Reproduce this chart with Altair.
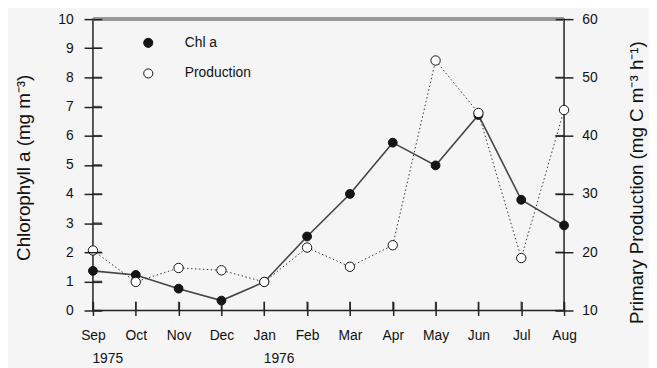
import altair as alt
import pandas as pd

months = ["Sep", "Oct", "Nov", "Dec", "Jan", "Feb", "Mar", "Apr", "May", "Jun", "Jul", "Aug"]
chl_a = [1.36, 1.22, 0.75, 0.34, 0.98, 2.54, 4.0, 5.76, 4.98, 6.71, 3.8, 2.92]
production = [20.3, 14.9, 17.3, 16.9, 14.9, 20.8, 17.5, 21.2, 52.9, 43.9, 19.0, 44.4]
years = ["1975", "1976"]
year_month_index = [0, 4]
left_ticks = list(range(0, 11))
right_ticks = [10, 20, 30, 40, 50, 60]

W, H = 477, 295
FONT = "Liberation Sans"
INK = "#222"

df = pd.DataFrame({
    "i": list(range(len(months))),
    "chl": chl_a,
    "prod": production,
    "s1": ["Chl a"] * len(months),
    "s2": ["Production"] * len(months),
})
ydf = pd.DataFrame({"i": year_month_index, "year": years})
ltdf = pd.DataFrame({"chl": left_ticks})
rtdf = pd.DataFrame({"prod": right_ticks})

x_enc = alt.X(
    "i:Q",
    scale=alt.Scale(domain=[0, len(months) - 1], nice=False, zero=False),
    axis=alt.Axis(
        values=list(range(len(months))),
        labelExpr=f"{months}[datum.value]",
        title=None, domain=False, grid=False, zindex=1,
        offset=-9, tickSize=14, tickWidth=1.5, tickColor=INK,
        labelPadding=13, labelFontSize=14, labelColor="#111", labelFont=FONT,
        labelFlush=False, labelOverlap=False,
    ),
)

y_left = alt.Y(
    "chl:Q",
    scale=alt.Scale(domain=[0, 10], nice=False, zero=False),
    axis=alt.Axis(
        values=left_ticks, title="Chlorophyll a  (mg m⁻³)",
        domain=False, grid=False, zindex=1, offset=-9, tickSize=18, tickWidth=1.5, tickColor=INK,
        labelPadding=11, labelFontSize=14, labelColor="#111", labelFont=FONT,
        titleFontSize=19, titleFont=FONT, titleFontWeight="normal", titleColor="#111",
        titleX=-79, titleY=150, titleAngle=270, titleBaseline="middle",
        labelOverlap=False,
    ),
)

y_right = alt.Y(
    "prod:Q",
    scale=alt.Scale(domain=[10, 60], nice=False, zero=False),
    axis=alt.Axis(
        orient="right", values=right_ticks, title="Primary Production  (mg C m⁻³ h⁻¹)",
        domain=False, grid=False, zindex=1, offset=-9, tickSize=18, tickWidth=1.5, tickColor=INK,
        labelPadding=9, labelFontSize=14, labelColor="#111", labelFont=FONT,
        titleFontSize=19, titleFont=FONT, titleFontWeight="normal", titleColor="#111",
        titleX=82, titleY=165, titleAngle=270, titleBaseline="middle",
        labelOverlap=False,
    ),
)

fill_scale = alt.Scale(domain=["Chl a", "Production"], range=["#151515", "white"])
legend = alt.Legend(
    title=None, orient="none", legendX=49, legendY=17,
    symbolType="circle", symbolSize=85, symbolStrokeColor="#111", symbolStrokeWidth=1,
    labelFontSize=14, labelFont=FONT, labelColor="#111", labelOffset=30,
    rowPadding=17,
)

base = alt.Chart(df)

# inner halves of the crossing tick marks
left_stubs = alt.Chart(ltdf).mark_tick(color=INK, thickness=1.5, size=9).encode(
    y=y_left, x=alt.value(4.5))
chl_line = base.mark_line(color="#444", strokeWidth=1.6).encode(x=x_enc, y=y_left)
chl_pts = base.mark_point(shape="circle", filled=True, size=80, stroke="#111",
                          strokeWidth=1, opacity=1).encode(
    x=x_enc, y=y_left, fill=alt.Fill("s1:N", scale=fill_scale, legend=legend))
left = alt.layer(left_stubs, chl_line, chl_pts)

right_stubs = alt.Chart(rtdf).mark_tick(color=INK, thickness=1.5, size=9).encode(
    y=y_right, x=alt.value(W - 4.5))
prod_line = base.mark_line(color="#333", strokeWidth=1, strokeDash=[1.5, 2.5]).encode(x=x_enc, y=y_right)
prod_pts = base.mark_point(shape="circle", filled=True, size=90, stroke="#111",
                           strokeWidth=1, opacity=1).encode(
    x=x_enc, y=y_right, fill=alt.Fill("s2:N", scale=fill_scale, legend=legend))
right = alt.layer(right_stubs, prod_line, prod_pts)

bottom_stubs = base.mark_tick(color=INK, thickness=1.5, size=9).encode(
    x=x_enc, y=alt.value(H - 4.5))

top_rule = alt.Chart(df).mark_rule(color="#999", strokeWidth=3).encode(
    x=alt.value(0), x2=alt.value(W), y=alt.value(0))

year_text = alt.Chart(ydf).mark_text(
    dx=15, fontSize=14, font=FONT, color="#111", baseline="middle").encode(
    x=x_enc, y=alt.value(H + 49), text="year:N")

chart = alt.layer(bottom_stubs, left, right, top_rule, year_text).resolve_scale(
    y="independent"
).properties(
    width=W, height=H,
    autosize=alt.AutoSizeParams(type="none"),
    padding={"left": 86, "top": 9, "right": 86, "bottom": 60},
    background="#f5f5f5",
).configure_view(
    stroke=INK, strokeWidth=1.5
)

chart.save("out.html", embed_options={"renderer": "svg", "actions": False})
